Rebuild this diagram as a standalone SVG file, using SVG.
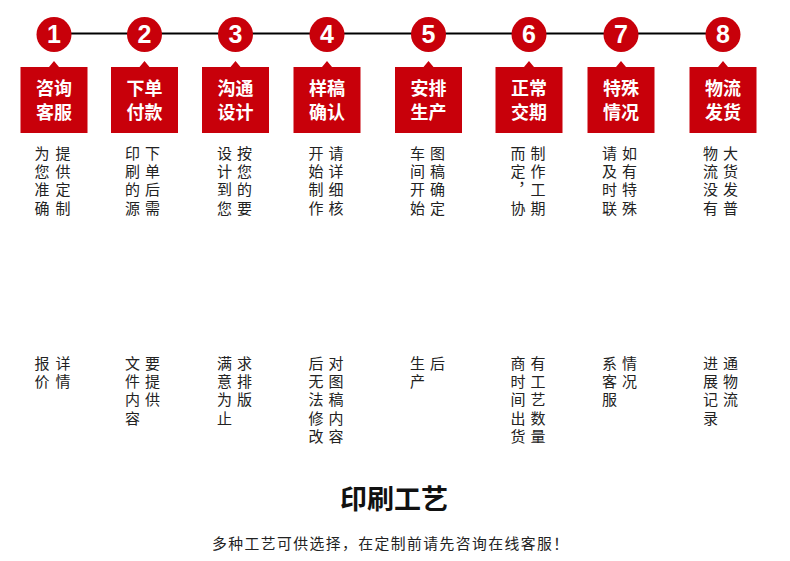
<svg xmlns="http://www.w3.org/2000/svg" width="790" height="561" viewBox="0 0 790 561">
<style>
.c{fill:#c8000a}
.n{font-family:"Liberation Sans",Arial,sans-serif;font-weight:bold;font-size:25px;fill:#fff;text-anchor:middle}
.b{fill:#c8000a}
.bt{font-family:"Noto Sans CJK SC",sans-serif;font-weight:bold;font-size:18px;fill:#fff;text-anchor:middle}
.v{font-family:"Noto Sans CJK SC",sans-serif;font-size:15px;fill:#222;writing-mode:vertical-rl;letter-spacing:3.3px}
.h{font-family:"Noto Sans CJK SC",sans-serif;font-weight:bold;font-size:27px;fill:#111;text-anchor:middle}
.s{font-family:"Noto Sans CJK SC",sans-serif;font-size:14.8px;fill:#222}
</style>
<defs>
<path id="box" d="M-33.5,67 H-5 L0,61 L5,67 H33.5 V133 H-33.5 Z"/>
</defs>
<g id="connectors">
<line x1="54" y1="33.5" x2="723" y2="33.5" stroke="#000" stroke-width="2"/>
</g>
<g id="step1" transform="translate(54,0)">
<circle class="c" cx="0" cy="34.5" r="17.5"/><text class="n" x="0" y="43">1</text>
<use href="#box" class="b"/>
<text class="bt" x="0" y="95">咨询</text><text class="bt" x="0" y="119">客服</text>
<text class="v" x="-12" y="145.5">为您准确</text>
<text class="v" x="9" y="145.5">提供定制</text>
<text class="v" x="-12" y="355.5">报价</text>
<text class="v" x="9" y="355.5">详情</text>
</g>
<g id="step2" transform="translate(144.5,0)">
<circle class="c" cx="0" cy="34.5" r="17.5"/><text class="n" x="0" y="43">2</text>
<use href="#box" class="b"/>
<text class="bt" x="0" y="95">下单</text><text class="bt" x="0" y="119">付款</text>
<text class="v" x="-12" y="145.5">印刷的源</text>
<text class="v" x="8" y="145.5">下单后需</text>
<text class="v" x="-12" y="355.5">文件内容</text>
<text class="v" x="8" y="355.5">要提供</text>
</g>
<g id="step3" transform="translate(235.5,0)">
<circle class="c" cx="0" cy="34.5" r="17.5"/><text class="n" x="0" y="43">3</text>
<use href="#box" class="b"/>
<text class="bt" x="0" y="95">沟通</text><text class="bt" x="0" y="119">设计</text>
<text class="v" x="-11" y="145.5">设计到您</text>
<text class="v" x="9" y="145.5">按您的要</text>
<text class="v" x="-11" y="355.5">满意为止</text>
<text class="v" x="9" y="355.5">求排版</text>
</g>
<g id="step4" transform="translate(327,0)">
<circle class="c" cx="0" cy="34.5" r="17.5"/><text class="n" x="0" y="43">4</text>
<use href="#box" class="b"/>
<text class="bt" x="0" y="95">样稿</text><text class="bt" x="0" y="119">确认</text>
<text class="v" x="-11" y="145.5">开始制作</text>
<text class="v" x="9" y="145.5">请详细核</text>
<text class="v" x="-11" y="355.5">后无法修改</text>
<text class="v" x="9" y="355.5">对图稿内容</text>
</g>
<g id="step5" transform="translate(428.5,0)">
<circle class="c" cx="0" cy="34.5" r="17.5"/><text class="n" x="0" y="43">5</text>
<use href="#box" class="b"/>
<text class="bt" x="0" y="95">安排</text><text class="bt" x="0" y="119">生产</text>
<text class="v" x="-11" y="145.5">车间开始</text>
<text class="v" x="9" y="145.5">图稿确定</text>
<text class="v" x="-11" y="355.5">生产</text>
<text class="v" x="9" y="355.5">后</text>
</g>
<g id="step6" transform="translate(529,0)">
<circle class="c" cx="0" cy="34.5" r="17.5"/><text class="n" x="0" y="43">6</text>
<use href="#box" class="b"/>
<text class="bt" x="0" y="95">正常</text><text class="bt" x="0" y="119">交期</text>
<text class="v" x="-11" y="145.5">而定，协</text>
<text class="v" x="9" y="145.5">制作工期</text>
<text class="v" x="-11" y="355.5">商时间出货</text>
<text class="v" x="9" y="355.5">有工艺数量</text>
</g>
<g id="step7" transform="translate(621,0)">
<circle class="c" cx="0" cy="34.5" r="17.5"/><text class="n" x="0" y="43">7</text>
<use href="#box" class="b"/>
<text class="bt" x="0" y="95">特殊</text><text class="bt" x="0" y="119">情况</text>
<text class="v" x="-11.5" y="145.5">请及时联</text>
<text class="v" x="8.5" y="145.5">如有特殊</text>
<text class="v" x="-11.5" y="355.5">系客服</text>
<text class="v" x="8.5" y="355.5">情况</text>
</g>
<g id="step8" transform="translate(723,0)">
<circle class="c" cx="0" cy="34.5" r="17.5"/><text class="n" x="0" y="43">8</text>
<use href="#box" class="b"/>
<text class="bt" x="0" y="95">物流</text><text class="bt" x="0" y="119">发货</text>
<text class="v" x="-12.5" y="145.5">物流没有</text>
<text class="v" x="7.5" y="145.5">大货发普</text>
<text class="v" x="-12.5" y="355.5">进展记录</text>
<text class="v" x="7.5" y="355.5">通物流</text>
</g>
<g id="footer">
<text class="h" x="394" y="509">印刷工艺</text>
<text class="s" x="212" y="548.5" textLength="356" lengthAdjust="spacing">多种工艺可供选择，在定制前请先咨询在线客服！</text>
</g>
</svg>
